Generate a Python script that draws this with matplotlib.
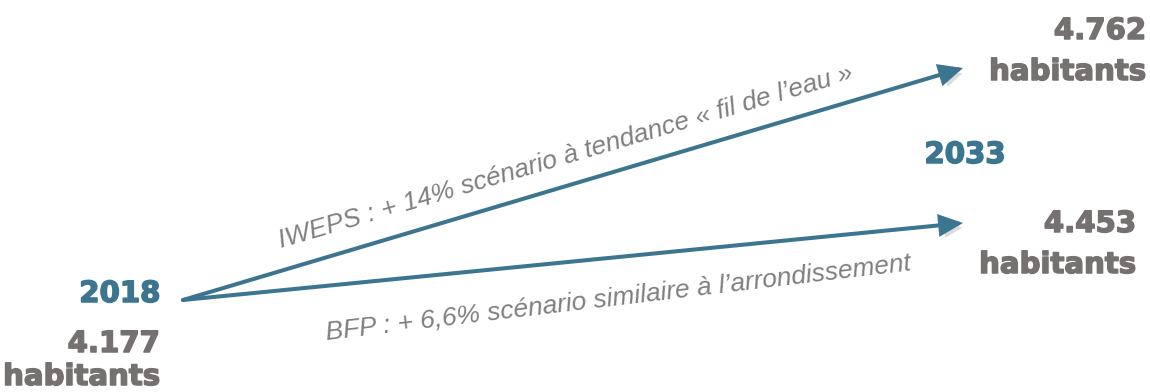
import matplotlib
matplotlib.use("Agg")
import matplotlib.pyplot as plt
import matplotlib.patheffects as pe
from matplotlib.patches import FancyArrowPatch

# ---- data ----
years = [2018, 2033]
start_value = 4177
scenarios = ["IWEPS", "BFP"]
end_values = [4762, 4453]
scenario_labels = ["IWEPS : + 14% scénario à tendance « fil de l\u2019eau »",
                   "BFP : + 6,6% scénario similaire à l\u2019arrondissement"]

def fmt(v):
    return f"{v:,}".replace(",", ".")

# ---- layout ----
W, H = 1150, 392
BLUE = "#3b7590"
GRAY = "#767171"
LGRAY = "#7f7f7f"
plt.rcParams["font.family"] = ["Liberation Sans", "DejaVu Sans"]

def bold(color):
    return dict(family="DejaVu Sans", fontweight="bold", fontsize=21, color=color,
                path_effects=[pe.withStroke(linewidth=1.1, foreground=color)])

fig = plt.figure(figsize=(W / 100, H / 100), dpi=100)
ax = fig.add_axes([0, 0, 1, 1])
ax.set_xlim(0, W)
ax.set_ylim(H, 0)
ax.axis("off")

def xpx(year):
    return 183 + (year - years[0]) * 52.0

start = (xpx(years[0]), 300)
end_y = [68, 223]

shadow = [pe.SimplePatchShadow(offset=(3, -3), shadow_rgbFace="#888888", alpha=0.3), pe.Normal()]
for yy in end_y:
    arr = FancyArrowPatch(start, (xpx(years[1]), yy),
                          arrowstyle="-|>,head_length=0.65,head_width=0.3",
                          mutation_scale=20, lw=2.9, color=BLUE,
                          shrinkA=0, shrinkB=0, joinstyle="miter")
    arr.set_path_effects(shadow)
    ax.add_patch(arr)

# start labels
ax.text(160, 302, str(years[0]), ha="right", va="baseline", **bold(BLUE))
ax.text(160, 352, fmt(start_value), ha="right", va="baseline", **bold(GRAY))
ax.text(160, 385, "habitants", ha="right", va="baseline", **bold(GRAY))

# end labels
ax.text(965, 163, str(years[1]), ha="center", va="baseline", **bold(BLUE))
ax.text(1146, 39, fmt(end_values[0]), ha="right", va="baseline", **bold(GRAY))
ax.text(1146, 80, "habitants", ha="right", va="baseline", **bold(GRAY))
ax.text(1136, 232, fmt(end_values[1]), ha="right", va="baseline", **bold(GRAY))
ax.text(1136, 273, "habitants", ha="right", va="baseline", **bold(GRAY))

# scenario labels
ax.text(566, 157, scenario_labels[0], ha="center", va="center", rotation=16.4,
        rotation_mode="anchor", fontsize=19, fontstyle="italic", color=LGRAY)
ax.text(618, 298, scenario_labels[1], ha="center", va="center", rotation=6.8,
        rotation_mode="anchor", fontsize=19, fontstyle="italic", color=LGRAY)

fig.savefig("out.png", dpi=100)
